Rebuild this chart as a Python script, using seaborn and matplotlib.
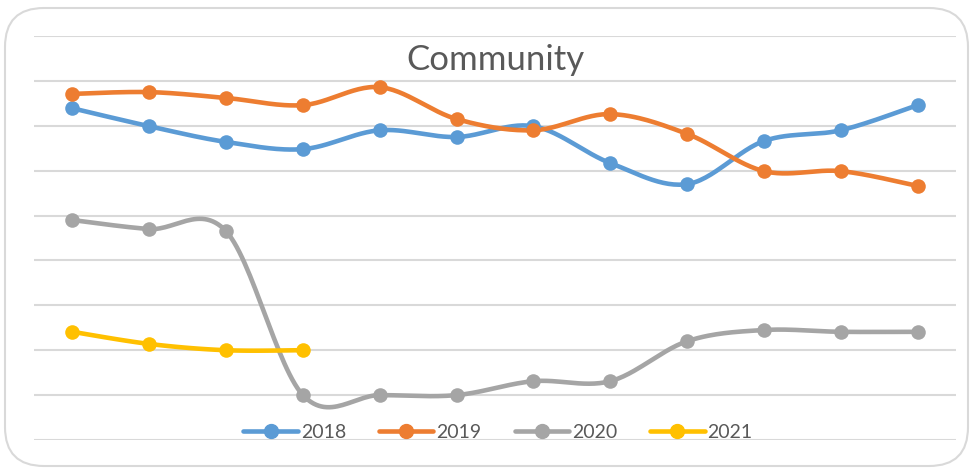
import numpy as np
import pandas as pd
import matplotlib
matplotlib.use("Agg")
import matplotlib.pyplot as plt
from matplotlib.patches import FancyBboxPatch
from matplotlib.lines import Line2D
import seaborn as sns

# values (gridline units, bottom gridline = 0)
months = list(range(1, 13))
y2018 = [7.39, 6.99, 6.64, 6.48, 6.90, 6.75, 6.99, 6.17, 5.70, 6.66, 6.90, 7.46]
y2019 = [7.71, 7.75, 7.62, 7.46, 7.86, 7.15, 6.90, 7.26, 6.82, 5.99, 5.99, 5.66]
y2020 = [4.90, 4.70, 4.65, 1.00, 1.00, 1.00, 1.31, 1.31, 2.20, 2.45, 2.41, 2.41]
y2021 = [2.41, 2.14, 2.00, 2.00]

years = ["2018", "2019", "2020", "2021"]
series = [y2018, y2019, y2020, y2021]
colors = ["#5B9BD5", "#ED7D31", "#A5A5A5", "#FFC000"]


def smooth(xs, ys, n=30):
    # excel-like smoothed line: bezier segments with catmull-rom control points
    xs = np.asarray(xs, float)
    ys = np.asarray(ys, float)
    px = np.concatenate([[xs[0]], xs, [xs[-1]]])
    py = np.concatenate([[ys[0]], ys, [ys[-1]]])
    out_x, out_y = [], []
    t = np.linspace(0, 1, n)
    for i in range(1, len(px) - 2):
        x0, x1, x2, x3 = px[i - 1], px[i], px[i + 1], px[i + 2]
        y0, y1, y2, y3 = py[i - 1], py[i], py[i + 1], py[i + 2]
        cx1, cy1 = x1 + (x2 - x0) / 6, y1 + (y2 - y0) / 6
        cx2, cy2 = x2 - (x3 - x1) / 6, y2 - (y3 - y1) / 6
        bx = (1 - t) ** 3 * x1 + 3 * (1 - t) ** 2 * t * cx1 + 3 * (1 - t) * t ** 2 * cx2 + t ** 3 * x2
        by = (1 - t) ** 3 * y1 + 3 * (1 - t) ** 2 * t * cy1 + 3 * (1 - t) * t ** 2 * cy2 + t ** 3 * y2
        out_x.extend(bx)
        out_y.extend(by)
    return out_x, out_y


sns.set_theme(style="white")
plt.rcParams["font.family"] = ["Lato", "DejaVu Sans"]

fig = plt.figure(figsize=(9.73, 4.70), dpi=100)
ax = fig.add_axes([34 / 973, 30 / 470, 922 / 973, 404 / 470])

# outer rounded frame
frame = FancyBboxPatch((5 / 973, 4 / 470), 963 / 973, 458 / 470,
                       boxstyle="round,pad=0,rounding_size=0.04",
                       transform=fig.transFigure, facecolor="none",
                       edgecolor="#D9D9D9", linewidth=1.5, zorder=0,
                       mutation_aspect=973 / 470)
fig.patches.append(frame)

for yr, vals, c in zip(years, series, colors):
    sx, sy = smooth(months[:len(vals)], vals)
    sns.lineplot(x=sx, y=sy, ax=ax, color=c, linewidth=3.3, sort=False,
                 estimator=None, zorder=3)
    sns.scatterplot(x=months[:len(vals)], y=vals, ax=ax, color=c, s=110,
                    edgecolor=c, linewidth=0, zorder=4)

ax.set_xlim(0.5, 12.5)
ax.set_ylim(0, 9)
ax.set_yticks(np.arange(0, 10))
ax.set_xticks([])
ax.set_yticklabels([])
ax.tick_params(left=False, bottom=False)
ax.grid(axis="y", color="#D9D9D9", linewidth=1.5)
for s in ax.spines.values():
    s.set_visible(False)

ax.set_title("Community", fontsize=25, color="#595959", y=0.915, pad=0)

handles = [Line2D([0], [0], color=c, linewidth=3.3, marker="o", markersize=10)
           for c in colors]
fig.legend(handles, years, loc="center", bbox_to_anchor=(498 / 973, 1 - 432 / 470),
           ncol=4, frameon=False, fontsize=14, labelcolor="#595959",
           handlelength=2.8, columnspacing=1.7, handletextpad=0.15)

fig.savefig("out.png", dpi=100)
